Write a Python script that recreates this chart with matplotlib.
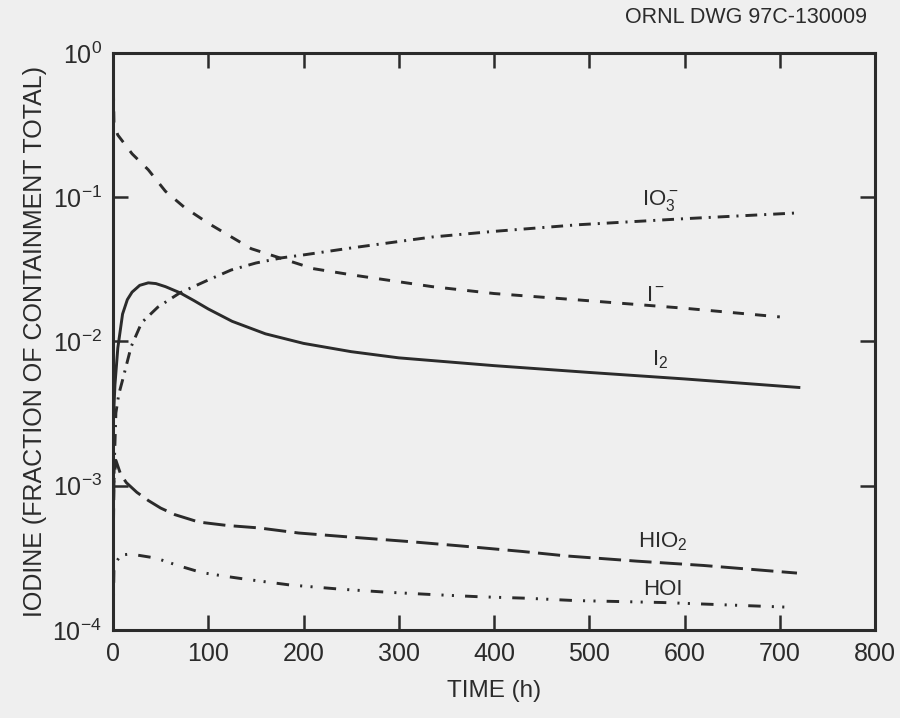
import matplotlib
matplotlib.use("Agg")
from matplotlib import pyplot as plt
from matplotlib.ticker import LogLocator, NullLocator, FixedLocator

# values (time in h, fraction of containment total)
i2_time = [0, 0.5, 2, 5, 10, 15, 20, 28, 37, 45, 55, 70, 85, 100, 125, 160,
           200, 250, 300, 400, 500, 600, 720]
i2_frac = [7e-4, 3e-3, 5e-3, 9e-3, 0.0155, 0.0195, 0.022, 0.0245, 0.0255,
           0.0252, 0.024, 0.0218, 0.0192, 0.0168, 0.0138, 0.0113,
           0.0097, 0.0085, 0.0077, 0.0068, 0.0061, 0.0055, 0.0048]

io3_time = [0, 1, 3, 6, 10, 19, 30, 47, 70, 100, 124, 150, 177, 202, 250,
            335, 400, 489, 600, 716]
io3_frac = [5e-4, 1.2e-3, 3.2e-3, 4.3e-3, 5.4e-3, 9.2e-3, 0.0135, 0.0173,
            0.0217, 0.0267, 0.0313, 0.035, 0.038, 0.040, 0.0445, 0.053,
            0.058, 0.0645, 0.071, 0.0777]

iod_time = [0, 1, 5, 20, 37, 55, 75, 100, 145, 210, 250, 335, 400, 489,
            600, 700]
iod_frac = [0.8, 0.32, 0.27, 0.20, 0.155, 0.11, 0.085, 0.066, 0.044, 0.032,
            0.029, 0.024, 0.0215, 0.0194, 0.017, 0.0148]

hio2_time = [0, 1, 3, 8, 14, 25, 37, 50, 65, 90, 120, 153, 195, 250, 311,
             370, 430, 476, 550, 620, 718]
hio2_frac = [3e-4, 1.1e-3, 1.5e-3, 1.2e-3, 1.05e-3, 9e-4, 7.9e-4, 7e-4,
             6.3e-4, 5.6e-4, 5.3e-4, 5.1e-4, 4.7e-4, 4.4e-4, 4.1e-4,
             3.8e-4, 3.5e-4, 3.26e-4, 3.0e-4, 2.8e-4, 2.48e-4]

hoi_time = [0, 1, 8, 16, 26, 45, 68, 93, 119, 141, 186, 238, 286, 335, 384,
            434, 484, 577, 707]
hoi_frac = [1e-4, 2.8e-4, 3.3e-4, 3.35e-4, 3.3e-4, 3.15e-4, 2.8e-4, 2.5e-4,
            2.35e-4, 2.24e-4, 2.05e-4, 1.92e-4, 1.83e-4, 1.76e-4, 1.70e-4,
            1.66e-4, 1.6e-4, 1.55e-4, 1.44e-4]

x_ticks = [0, 100, 200, 300, 400, 500, 600, 700, 800]

INK = "#2b2b2b"
plt.rcParams["font.family"] = ["Liberation Sans", "DejaVu Sans"]
plt.rcParams["mathtext.fontset"] = "custom"
plt.rcParams["mathtext.rm"] = "Liberation Sans"
plt.rcParams["mathtext.it"] = "Liberation Sans"
plt.rcParams["mathtext.bf"] = "Liberation Sans:bold"
plt.rcParams["lines.scale_dashes"] = False

fig = plt.figure(figsize=(9, 7.18), dpi=100, facecolor="#efefef")
ax = fig.add_axes([0.1256, 0.1226, 0.8467, 0.8036])
ax.set_facecolor("#efefef")

lw = 2.1
ax.plot(i2_time, i2_frac, color=INK, lw=lw, linestyle="-")
ax.plot(iod_time, iod_frac, color=INK, lw=lw, dashes=(8, 8))
ax.plot(io3_time, io3_frac, color=INK, lw=lw, dashes=(8.5, 5, 1.5, 5))
ax.plot(hio2_time, hio2_frac, color=INK, lw=lw, dashes=(16, 6))
ax.plot(hoi_time, hoi_frac, color=INK, lw=lw,
        dashes=(9, 8, 1.5, 6, 1.5, 8))

ax.set_yscale("log")
ax.set_xlim(0, 800)
ax.set_ylim(1e-4, 1)
ax.xaxis.set_major_locator(FixedLocator(x_ticks))
ax.yaxis.set_major_locator(LogLocator(base=10, numticks=10))
ax.yaxis.set_minor_locator(NullLocator())

for side in ax.spines.values():
    side.set_linewidth(2.2)
    side.set_color(INK)
ax.tick_params(which="major", direction="in", length=11, width=1.8,
               color=INK, labelcolor=INK, labelsize=18,
               top=True, right=True)
ax.tick_params(axis="x", pad=9)
ax.tick_params(axis="y", pad=8)

ax.set_xlabel("TIME (h)", fontsize=17.5, color=INK, labelpad=10)
ax.set_ylabel("IODINE (FRACTION OF CONTAINMENT TOTAL)", fontsize=18,
              color=INK, labelpad=4)

lab = dict(fontsize=16, color=INK, ha="center", va="center")
ax.text(574, 0.095, r"IO$_3^-$", **lab)
ax.text(570, 0.021, r"I$^-$", **lab)
ax.text(574, 0.0075, r"I$_2$", **lab)
ax.text(577, 4.1e-4, r"HIO$_2$", **lab)
ax.text(577, 1.9e-4, "HOI", **lab)

fig.text(0.963, 0.976, "ORNL DWG 97C-130009", fontsize=15.5, color=INK,
         ha="right", va="center")

fig.savefig("out.png", dpi=100, facecolor=fig.get_facecolor())
